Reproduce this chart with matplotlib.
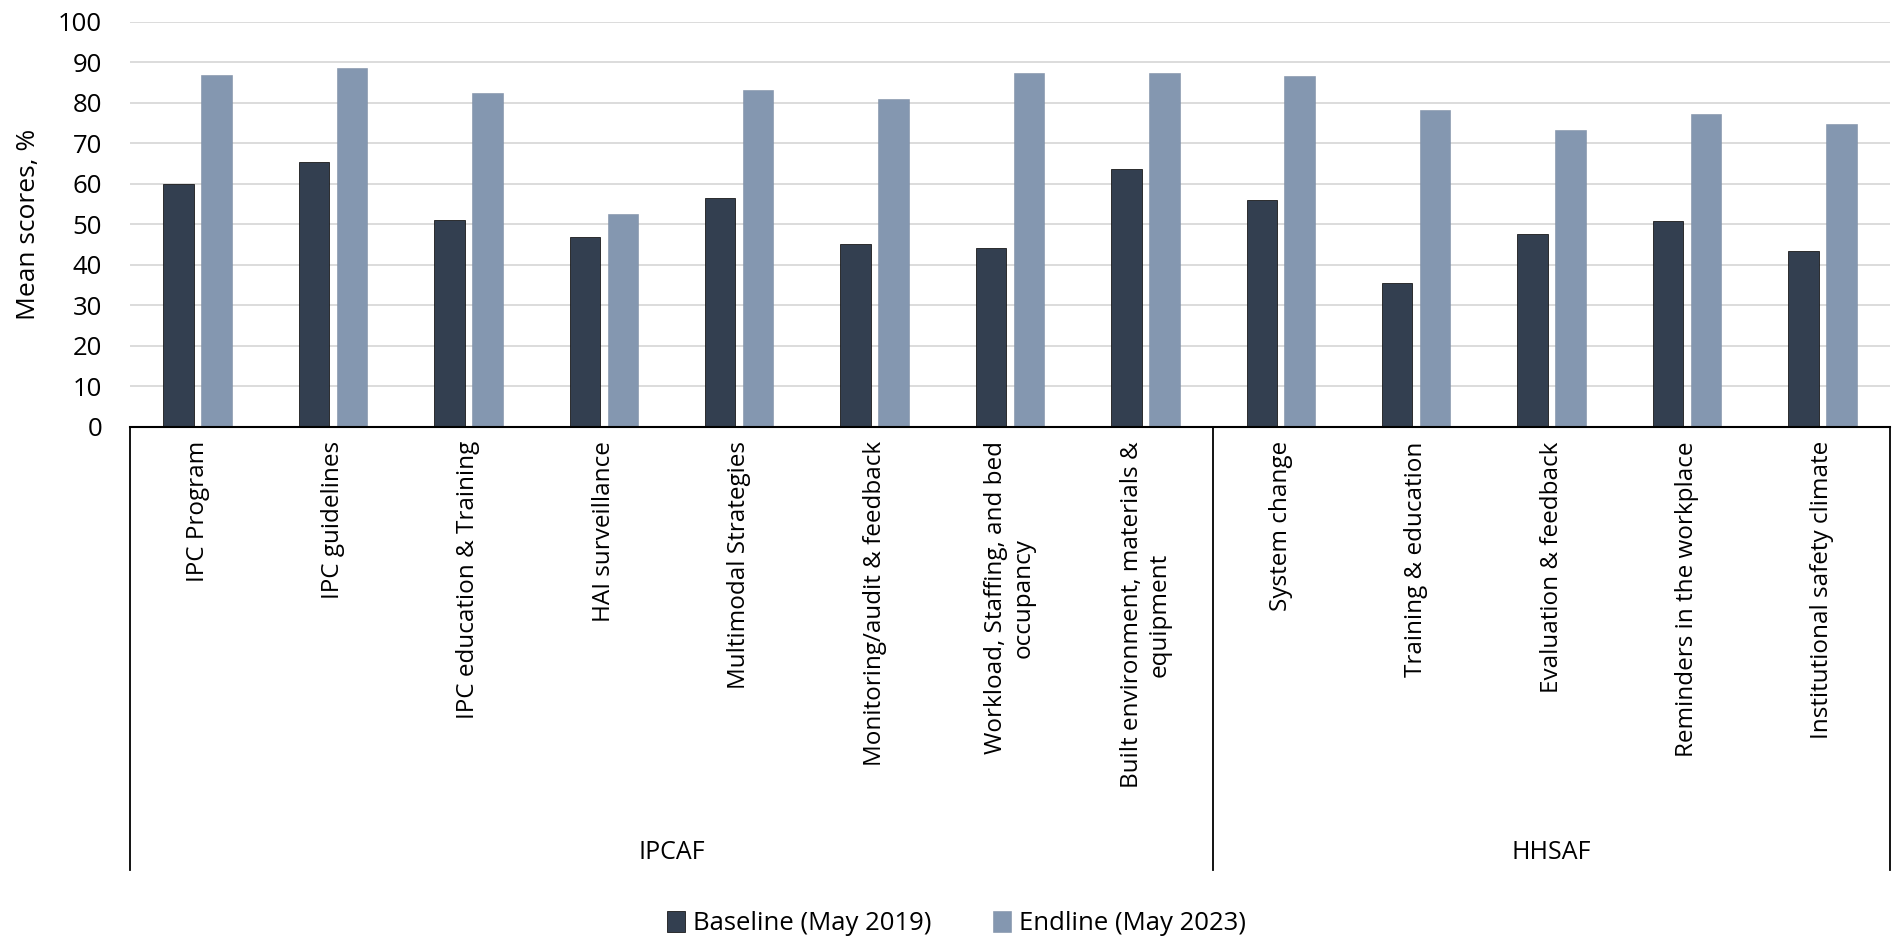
import matplotlib.pyplot as plt
import matplotlib.transforms as mtransforms
import numpy as np

# Categories and scores
categories = [
    "IPC Program",
    "IPC guidelines",
    "IPC education & Training",
    "HAI surveillance",
    "Multimodal Strategies",
    "Monitoring/audit & feedback",
    "Workload, Staffing, and bed\noccupancy",
    "Built environment, materials &\nequipment",
    "System change",
    "Training & education",
    "Evaluation & feedback",
    "Reminders in the workplace",
    "Institutional safety climate",
]
groups = ["IPCAF", "HHSAF"]
group_sizes = [8, 5]

baseline = [60.1, 65.5, 51.1, 46.9, 56.5, 45.3, 44.1, 63.7, 56.0, 35.6, 47.7, 50.9, 43.4]
endline = [87.0, 88.7, 82.5, 52.6, 83.2, 80.9, 87.4, 87.4, 86.7, 78.3, 73.4, 77.4, 74.9]

series_labels = ["Baseline (May 2019)", "Endline (May 2023)"]
dark = "#333F50"
light = "#8497B0"

plt.rcParams["font.family"] = ["Open Sans", "DejaVu Sans"]

fig = plt.figure(figsize=(19.02, 9.48), dpi=100)
ax = fig.add_axes([0.0683, 0.5496, 0.9254, 0.4272])

x = np.arange(len(categories)) + 0.5
w = 0.225
off = 0.14
b1 = ax.bar(x - off, baseline, w, color=dark, edgecolor="#1a1a1a", linewidth=0.6,
            label=series_labels[0], zorder=3)
b2 = ax.bar(x + off, endline, w, color=light, edgecolor="#7f8fa6", linewidth=0.4,
            label=series_labels[1], zorder=3)

ax.set_xlim(0, len(categories))
ax.set_ylim(0, 100)
ax.set_yticks(range(0, 101, 10))
ax.yaxis.grid(True, color="#D9D9D9", linewidth=1.3, zorder=0)
ax.set_axisbelow(True)
for s in ["left", "right", "top"]:
    ax.spines[s].set_visible(False)
ax.spines["bottom"].set_color("black")
ax.spines["bottom"].set_linewidth(1.5)
ax.spines["bottom"].set_zorder(4)
ax.tick_params(axis="y", length=0, pad=20, labelsize=18.5)
ax.set_xticks([])
ax.set_ylabel("Mean scores, %", fontsize=19, labelpad=12)

# multi-level category axis
trans = mtransforms.blended_transform_factory(ax.transData, ax.transAxes)
for xi, lab in zip(x, categories):
    ax.text(xi, -0.035, lab, rotation=90, ha="center", va="top", fontsize=17.5,
            transform=trans, linespacing=1.2)

edges = np.concatenate([[0], np.cumsum(group_sizes)])
for e in edges:
    ax.plot([e, e], [0, -1.094], color="black", linewidth=1.3, transform=trans,
            clip_on=False)
for g, a, b in zip(groups, edges[:-1], edges[1:]):
    ax.text((a + b) / 2, -1.05, g, ha="center", va="center", fontsize=18,
            transform=trans)

leg = fig.legend(handles=[b1, b2], labels=series_labels, loc="center",
                 bbox_to_anchor=(0.503, 0.026), ncol=2, frameon=False,
                 handlelength=0.7, handleheight=0.9, handletextpad=0.3,
                 columnspacing=2.4, prop={"size": 18.5})

fig.savefig("out.png", dpi=100)
